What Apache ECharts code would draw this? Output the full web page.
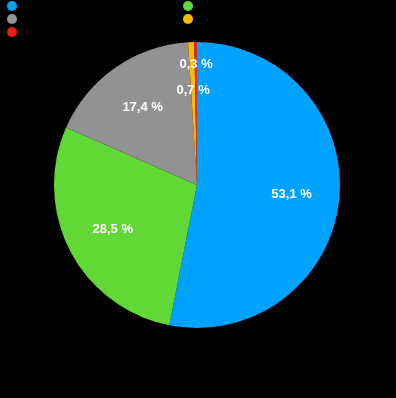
<!DOCTYPE html>
<html><head><meta charset="utf-8">
<style>html,body{margin:0;padding:0;background:#000;}#c{width:396px;height:398px;}</style>
<script src="https://cdn.jsdelivr.net/npm/echarts@6/dist/echarts.min.js"></script>
</head><body><div id="c"></div>
<script>
const categories = ['A', 'B', 'C', 'D', 'E'];
const values = [53.1, 28.5, 17.4, 0.7, 0.3];
const labels = ['53,1 %', '28,5 %', '17,4 %', '0,7 %', '0,3 %'];
const colors = ['#00A2FF', '#61D836', '#929292', '#F8BA00', '#EE220C'];

const data = categories.map((n, i) => ({ name: n, value: values[i], itemStyle: { color: colors[i] } }));
const chart = echarts.init(document.getElementById('c'));
const legendCommon = {
  orient: 'vertical', top: 1, itemWidth: 10, itemHeight: 10, itemGap: 3, icon: 'circle',
  textStyle: { color: '#000', fontSize: 10 }, selectedMode: false, padding: 0
};
chart.setOption({
  backgroundColor: '#000',
  animation: false,
  legend: [
    Object.assign({ left: 7, data: [categories[0], categories[2], categories[4]] }, legendCommon),
    Object.assign({ left: 183, data: [categories[1], categories[3]] }, legendCommon)
  ],
  series: [
    {
      type: 'pie', center: [197, 185], radius: [0, 143], startAngle: 90, clockwise: true,
      data: data, label: { show: false }, labelLine: { show: false }, silent: true
    },
    {
      type: 'pie', center: [197, 185], radius: [0, 184], startAngle: 90, clockwise: true,
      silent: true, legendHoverLink: false,
      data: data.map((d, i) => ({ name: d.name + ' ', value: d.value, itemStyle: { color: 'rgba(0,0,0,0)' } })),
      label: {
        show: true, position: 'inside', color: '#fff', fontSize: 13, fontWeight: 'bold',
        fontFamily: 'Liberation Sans, Arial, sans-serif',
        formatter: p => labels[p.dataIndex]
      },
      labelLine: { show: false },
      labelLayout: p => (p.dataIndex === 4 ? { dy: -26 } : {})
    }
  ]
});
</script></body></html>
